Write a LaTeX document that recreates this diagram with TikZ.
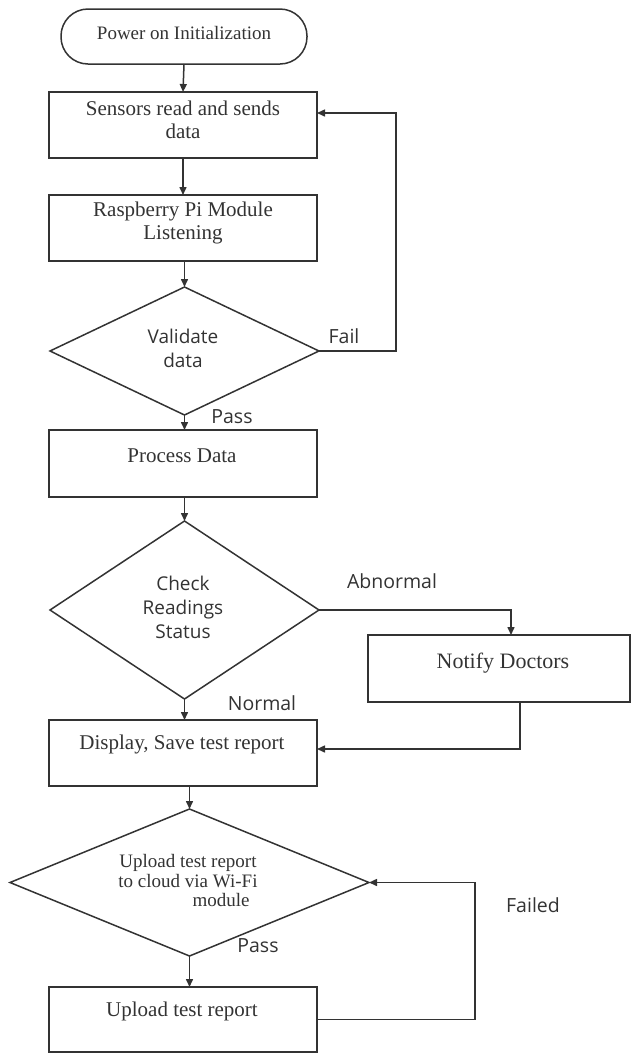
\documentclass[tikz,border=0pt]{standalone}
\usepackage{fontspec}
\setmainfont{Liberation Serif}
\newfontfamily\labfont{Open Sans}
\usetikzlibrary{shapes.geometric,arrows.meta}
\definecolor{ink}{HTML}{333333}
\tikzset{
  every node/.style={inner sep=0pt, outer sep=0pt, text=ink},
  shapebox/.style={draw=ink, line width=1.5pt, rectangle, minimum width=268pt},
  termbox/.style={draw=ink, line width=1.5pt, rectangle, rounded corners=27pt},
  decbox/.style={draw=ink, line width=1.5pt, diamond, aspect=2},
  boxtext/.style={font=\fontsize{21}{23}\selectfont, align=center},
  dectext/.style={font=\labfont\fontsize{19}{24}\selectfont, align=center},
  lab/.style={font=\labfont\fontsize{19.5}{22}\selectfont},
  conn/.style={draw=ink, line width=1.5pt},
  arr/.style={conn, -{Triangle[length=8pt,width=7pt]}},
}
\begin{document}
\begin{tikzpicture}[x=1pt,y=-1pt]
\useasboundingbox (0,0) rectangle (631,1053);
% shapes
\node[termbox, minimum width=246pt, minimum height=55pt] (term) at (184,36.5) {};
\node[shapebox, minimum height=66pt] (b1) at (183,125) {};
\node[shapebox, minimum height=66pt] (b2) at (183,228) {};
\node[decbox, minimum width=269pt, minimum height=128pt] (d1) at (184.5,351) {};
\node[shapebox, minimum height=67pt] (b3) at (183,463.5) {};
\node[decbox, minimum width=269pt, minimum height=178pt] (d2) at (184.5,610) {};
\node[shapebox, minimum width=262pt, minimum height=67pt] (nd) at (499,668.5) {};
\node[shapebox, minimum height=66pt] (b4) at (183,753) {};
\node[decbox, minimum width=359pt, minimum height=147pt] (d3) at (189.5,882.5) {};
\node[shapebox, minimum height=65pt] (b5) at (183,1019.5) {};
% texts
\node[boxtext, font=\fontsize{19}{21}\selectfont] (tterm) at (184,33) {Power on Initialization};
\node[boxtext] (t1) at (183,119.5) {Sensors read and sends\\data};
\node[boxtext] (t2) at (183,222.5) {Raspberry Pi Module\\Listening};
\node[dectext] (td1) at (183,348) {Validate\\data};
\node[boxtext] (t3) at (182,456) {Process Data};
\node[dectext] (td2) at (183,607) {Check\\Readings\\Status};
\node[boxtext, font=\fontsize{22}{24}\selectfont] (tnd) at (503,663) {Notify Doctors};
\node[boxtext] (t4) at (182,744) {Display, Save test report};
\node[boxtext, font=\fontsize{19}{20}\selectfont] (td3a) at (188,871) {Upload test report\\to cloud via Wi-Fi};
\node[boxtext, font=\fontsize{19}{20}\selectfont] (td3b) at (221,900) {module};
\node[boxtext] (t5) at (182,1011) {Upload test report};
% labels
\node[lab] (lfail) at (344,336) {Fail};
\node[lab] (lpass1) at (232,417) {Pass};
\node[lab] (labn) at (392,581) {Abnormal};
\node[lab] (lnorm) at (262,703) {Normal};
\node[lab] (lpass2) at (258,946) {Pass};
\node[lab] (lfailed) at (533,905) {Failed};
% helper coordinates
\coordinate (b1in) at (317,113);
\coordinate (ndin) at (511,635);
\coordinate (ndout) at (520,702);
\coordinate (b4in) at (317,749);
% connectors
\draw[arr] (term.south) -- (b1.north);
\draw[arr] (b1.south) -- (b2.north);
\draw[arr] (b2.south -| d1.north) -- (d1.north);
\draw[arr] (d1.south) -- (d1.south |- b3.north);
\draw[arr] (b3.south -| d2.north) -- (d2.north);
\draw[arr] (d2.south) -- (d2.south |- b4.north);
\draw[arr] (d2.east) -| (ndin);
\draw[arr] (ndout) |- (b4in);
\draw[arr] (d1.east) -- ++(77,0) |- (b1in);
\draw[arr] (b4.south -| d3.north) -- (d3.north);
\draw[arr] (d3.south) -- (d3.south |- b5.north);
\draw[arr] (b5.east) -- ++(158,0) |- (d3.east);
\end{tikzpicture}
\end{document}
